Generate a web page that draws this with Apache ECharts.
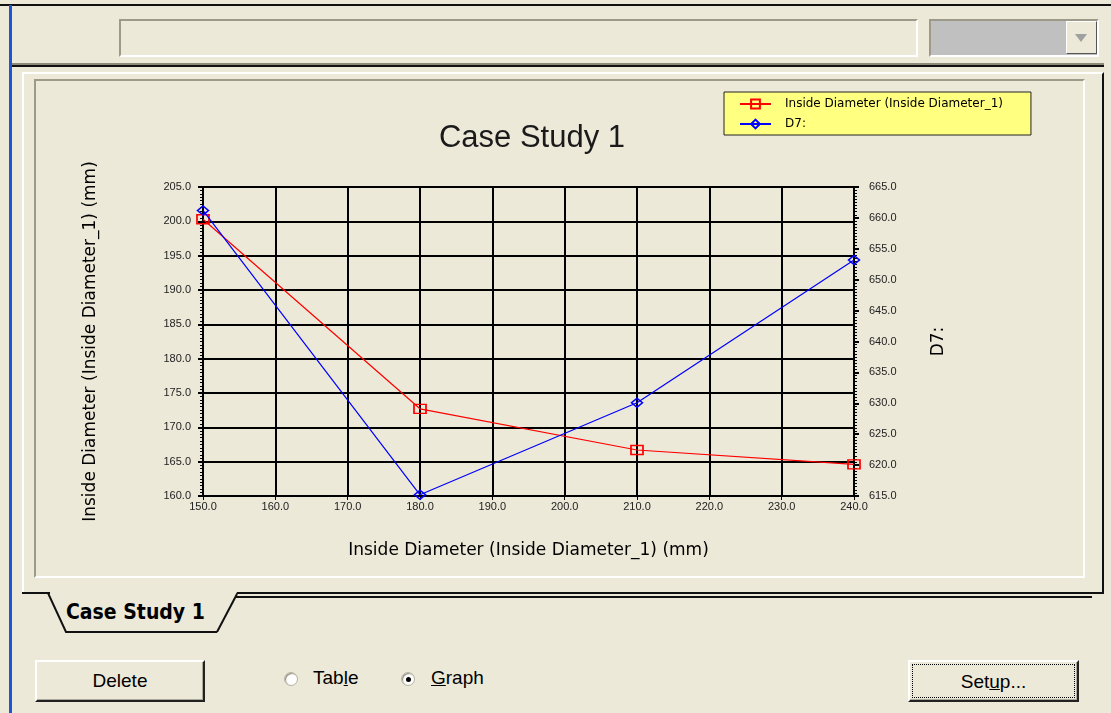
<!DOCTYPE html>
<html>
<head>
<meta charset="utf-8">
<script src="https://cdn.jsdelivr.net/npm/echarts@6/dist/echarts.min.js"></script>
<style>
  html, body { margin: 0; padding: 0; }
  body { width: 1111px; height: 713px; background: #ECE9D8; position: relative; overflow: hidden;
         font-family: "Liberation Sans", Arial, sans-serif; }
  .abs { position: absolute; box-sizing: border-box; }
  .sunken { border-top: 2px solid #9d9a8a; border-left: 2px solid #9d9a8a;
            border-right: 2px solid #fff; border-bottom: 2px solid #fff; }
  .btn { background: #ECE9D8; border-top: 2px solid #fff; border-left: 2px solid #fff;
         border-right: 2px solid #222; border-bottom: 2px solid #222;
         box-shadow: inset -1px -1px 0 #aca899; text-align: center;
         font-family: "Liberation Sans Narrow", "Liberation Sans", Arial, sans-serif; font-size: 19px; color: #000; }
  .radio { width: 14px; height: 14px; border-radius: 50%; background: #fff;
           border: 1px solid #b5b2a2; box-shadow: inset 1px 1px 1px #8d8a7a; }
  .lbl { font-family: "Liberation Sans Narrow", "Liberation Sans", Arial, sans-serif; font-size: 19px; color: #000; }
  #chart { position: absolute; left: 0; top: 0; width: 1111px; height: 713px; }
</style>
</head>
<body>
  <!-- window frame -->
  <div class="abs" style="left:0;top:4px;width:1111px;height:2px;background:#111;"></div>
  <div class="abs" style="left:9px;top:5px;width:3px;height:708px;background:#1c55d6;"></div>

  <!-- toolbar -->
  <div class="abs sunken" style="left:119px;top:19px;width:799px;height:38px;"></div>
  <div class="abs sunken" style="left:929px;top:19px;width:170px;height:38px;background:#c0c0c0;"></div>
  <div class="abs" style="left:1066px;top:21px;width:31px;height:33px;background:#ECE9D8;border-left:1px solid #fff;border-top:1px solid #fff;border-right:1px solid #555;border-bottom:1px solid #555;"></div>
  <div class="abs" style="left:1075px;top:34px;width:0;height:0;border-left:6px solid transparent;border-right:6px solid transparent;border-top:8px solid #a0a0a0;"></div>
  <div class="abs" style="left:12px;top:63px;width:1092px;height:2px;background:#8d8a7a;"></div>
  <div class="abs" style="left:12px;top:65px;width:1092px;height:2px;background:#111;"></div>

  <!-- tab pane -->
  <div class="abs" style="left:22px;top:72px;width:1082px;height:522px;border-top:2px solid #fff;border-left:2px solid #fff;border-right:2px solid #111;border-bottom:2px solid #111;"></div>
  <div class="abs" style="left:236px;top:596px;width:856px;height:2px;background:#111;"></div>
  <div class="abs" style="left:34px;top:79px;width:1051px;height:499px;border-top:2px solid #9d9a8a;border-left:2px solid #9d9a8a;border-right:2px solid #fff;border-bottom:2px solid #fff;"></div>

  <!-- tab -->
  <svg class="abs" style="left:0;top:588px;" width="240" height="52">
    <polygon points="50,4 68,44 217,44 237,4" fill="#ECE9D8" />
    <line x1="50" y1="5" x2="236" y2="5" stroke="#ECE9D8" stroke-width="4" />
    <polyline points="22,5 48,5 66,44 217,44" fill="none" stroke="#111" stroke-width="2" />
    <polyline points="217,44 237,6" fill="none" stroke="#111" stroke-width="2" />
  </svg>
  <div class="abs" style="left:66px;top:600px;font-family:'Liberation Sans Narrow','DejaVu Sans Condensed',Arial,sans-serif;font-weight:bold;font-size:21px;color:#000;">Case Study 1</div>

  <!-- bottom controls -->
  <div class="abs btn" style="left:35px;top:660px;width:170px;height:42px;line-height:38px;">Delete</div>
  <div class="abs radio" style="left:284px;top:672px;"></div>
  <div class="abs lbl" style="left:313px;top:667px;">Tab<span style="text-decoration:underline">l</span>e</div>
  <div class="abs radio" style="left:401px;top:672px;"><div style="position:absolute;left:4px;top:4px;width:5px;height:5px;border-radius:50%;background:#000;"></div></div>
  <div class="abs lbl" style="left:431px;top:667px;"><span style="text-decoration:underline">G</span>raph</div>
  <div class="abs btn" style="left:908px;top:660px;width:171px;height:42px;line-height:34px;">
    <div style="margin:2px;border:1px dotted #000;height:32px;">Set<span style="text-decoration:underline">u</span>p...</div>
  </div>

  <div id="chart"></div>

<script>
// values
const xValues = [150, 180, 210, 240];
const insideDiameter = [200.3, 172.7, 166.7, 164.6];
const d7Values = [661.2, 615.2, 630.1, 653.2];

const seriesNames = ['Inside Diameter (Inside Diameter_1)', 'D7:'];
const chartTitle = 'Case Study 1';
const xAxisName = 'Inside Diameter (Inside Diameter_1) (mm)';
const leftAxisName = 'Inside Diameter (Inside Diameter_1) (mm)';
const rightAxisName = 'D7:';

const chart = echarts.init(document.getElementById('chart'), null, { renderer: 'canvas' });

const fmt = (v) => v.toFixed(1);
const black = '#000';
const nameFont = { fontSize: 17, color: '#000', fontFamily: '"DejaVu Sans", Verdana, sans-serif' };

const option = {
  animation: false,
  backgroundColor: 'transparent',
  textStyle: { fontFamily: '"Liberation Sans", Arial, sans-serif' },
  title: {
    text: chartTitle,
    left: 527,
    top: 118,
    textAlign: 'center',
    textStyle: { fontSize: 31, fontWeight: 'normal', color: '#1a1a1a' }
  },
  legend: {
    orient: 'vertical',
    left: 724,
    top: 92,
    backgroundColor: '#FFFF80',
    borderColor: '#222',
    borderWidth: 1,
    borderRadius: 0,
    padding: [6, 28, 5, 15],
    itemWidth: 31,
    itemHeight: 11,
    itemGap: 8,
    data: seriesNames,
    textStyle: { fontSize: 12, color: '#000', fontFamily: '"DejaVu Sans", Verdana, sans-serif', padding: [0, 0, 0, 9] }
  },
  grid: { left: 203, top: 187, width: 651, height: 309, containLabel: false },
  xAxis: {
    type: 'value',
    min: 150,
    max: 240,
    interval: 10,
    name: xAxisName,
    nameLocation: 'middle',
    nameGap: 46,
    nameTextStyle: nameFont,
    axisLine: { lineStyle: { color: black, width: 2 } },
    axisTick: { show: true, length: 4, lineStyle: { color: black, width: 1 } },
    splitLine: { show: true, lineStyle: { color: black, width: 2 } },
    axisLabel: { formatter: fmt, fontSize: 11, color: '#222', margin: 5 }
  },
  yAxis: [
    {
      type: 'value',
      position: 'left',
      min: 160,
      max: 205,
      interval: 5,
      name: leftAxisName,
      nameLocation: 'middle',
      nameGap: 104,
      nameRotate: 90,
      nameTextStyle: nameFont,
      axisLine: { lineStyle: { color: black, width: 2 } },
      axisTick: { show: true, length: 5, lineStyle: { color: black, width: 2 } },
      minorTick: { show: true, splitNumber: 10, length: 3, lineStyle: { color: black, width: 1 } },
      splitLine: { show: true, lineStyle: { color: black, width: 2 } },
      axisLabel: { formatter: fmt, fontSize: 11, color: '#222', margin: 12 }
    },
    {
      type: 'value',
      position: 'right',
      min: 615,
      max: 665,
      interval: 5,
      name: rightAxisName,
      nameLocation: 'middle',
      nameGap: 76,
      nameRotate: 90,
      nameTextStyle: nameFont,
      axisLine: { lineStyle: { color: black, width: 2 } },
      axisTick: { show: true, length: 5, lineStyle: { color: black, width: 2 } },
      minorTick: { show: true, splitNumber: 10, length: 3, lineStyle: { color: black, width: 1 } },
      splitLine: { show: false },
      axisLabel: { formatter: fmt, fontSize: 11, color: '#222', margin: 15 }
    }
  ],
  series: [
    {
      name: seriesNames[0],
      type: 'line',
      yAxisIndex: 0,
      data: xValues.map((x, i) => [x, insideDiameter[i]]),
      lineStyle: { width: 1.2, color: '#ff0000' },
      symbol: 'rect',
      symbolSize: [12, 9],
      itemStyle: { color: 'rgba(0,0,0,0)', borderColor: '#ff0000', borderWidth: 1.5 },
      z: 3
    },
    {
      name: seriesNames[1],
      type: 'line',
      yAxisIndex: 1,
      data: xValues.map((x, i) => [x, d7Values[i]]),
      lineStyle: { width: 1.2, color: '#0000ff' },
      symbol: 'diamond',
      symbolSize: [11, 9],
      itemStyle: { color: 'rgba(0,0,0,0)', borderColor: '#0000ff', borderWidth: 1.5 },
      z: 4
    }
  ]
};

chart.setOption(option);
</script>
</body>
</html>
